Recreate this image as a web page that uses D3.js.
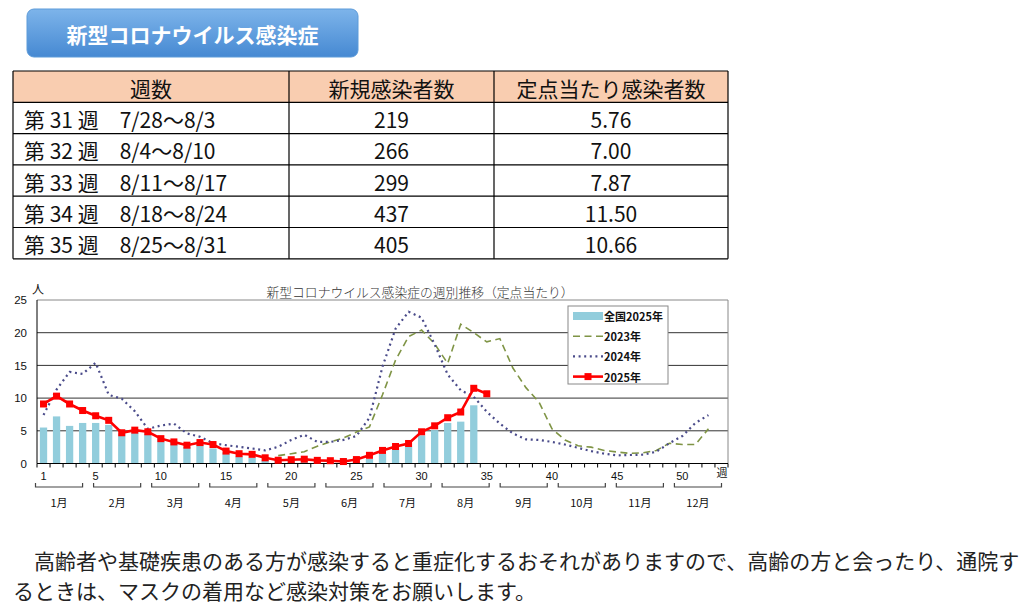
<!DOCTYPE html>
<html lang="ja">
<head>
<meta charset="utf-8">
<title>新型コロナウイルス感染症</title>
<script src="https://cdn.jsdelivr.net/npm/d3@7.9.0/dist/d3.min.js"></script>
<style>
  html, body { margin: 0; padding: 0; background: #fff; }
  svg { display: block; font-family: "Noto Sans CJK JP", "Noto Sans", sans-serif; }
</style>
</head>
<body>
<svg id="page" width="1032" height="616"></svg>
<script>
// ---- data ----
const tableHeaders = ["週数", "新規感染者数", "定点当たり感染者数"];
const tableWeeks = ["第 31 週　7/28～8/3", "第 32 週　8/4～8/10", "第 33 週　8/11～8/17", "第 34 週　8/18～8/24", "第 35 週　8/25～8/31"];
const tableCases = ["219", "266", "299", "437", "405"];
const tablePerSentinel = ["5.76", "7.00", "7.87", "11.50", "10.66"];

const weeks = d3.range(1, 54);            // week categories 1..53
const tickWeeks = [1, 5, 10, 15, 20, 25, 30, 35, 40, 45, 50];
const yTicks = [0, 5, 10, 15, 20, 25];
const months = ["1月", "2月", "3月", "4月", "5月", "6月", "7月", "8月", "9月", "10月", "11月", "12月"];

// 全国2025年 (bars), from week 1
const national2025 = [5.5, 7.2, 5.75, 6.2, 6.2, 5.9, 4.6, 4.8, 4.6, 3.8,
  3.3, 2.55, 3.0, 2.3, 1.7, 1.1, 0.9, 0.55, 0.45, 0.4,
  0.4, 0.35, 0.35, 0.8, 0.8, 0.7, 1.5, 2.1, 2.55, 4.3,
  5.1, 6.2, 6.4, 8.9];

// 2025年, from week 1
const rate2025 = [9.1, 10.3, 9.1, 8.1, 7.3, 6.6, 4.7, 5.1, 4.85, 3.8,
  3.3, 2.8, 3.2, 2.9, 1.9, 1.5, 1.4, 0.87, 0.5, 0.58,
  0.66, 0.48, 0.43, 0.3, 0.6, 1.25, 2.0, 2.6, 3.06, 4.85,
  5.76, 7.00, 7.87, 11.50, 10.66];

// 2024年, from week 1
const rate2024 = [7.4, 11.3, 14.0, 13.7, 15.4, 10.5, 9.9, 8.0, 5.3, 5.8,
  6.1, 4.6, 4.1, 3.1, 2.8, 2.55, 2.3, 2.0, 2.55, 3.6,
  4.4, 3.3, 3.3, 3.6, 4.2, 7.0, 14.8, 20.6, 23.2, 22.3,
  18.2, 13.6, 11.2, 10.2, 7.9, 6.1, 4.6, 3.7, 3.6, 3.3,
  2.9, 2.4, 1.9, 1.5, 1.25, 1.3, 1.35, 1.8, 3.1, 4.2,
  6.2, 7.4];

// 2023年, from week 19
const start2023 = 19;
const rate2023 = [1.2, 1.5, 1.8, 2.65, 3.3, 3.9, 4.8, 5.6, 10.5, 15.8,
  19.4, 20.4, 18.3, 15.3, 21.3, 20.0, 18.6, 19.1, 14.6, 11.6,
  9.4, 5.3, 3.6, 2.7, 2.5, 2.0, 1.75, 1.55, 1.65, 2.0,
  3.1, 2.9, 2.9, 5.3];

const legendLabels = ["全国2025年", "2023年", "2024年", "2025年"];

// ---- page ----
const svg = d3.select("#page");
const defs = svg.append("defs");

// title button
let grad = defs.append("linearGradient").attr("id", "btn").attr("x1", 0).attr("y1", 0).attr("x2", 0).attr("y2", 1);
grad.append("stop").attr("offset", "0%").attr("stop-color", "#7db4ea");
grad.append("stop").attr("offset", "100%").attr("stop-color", "#4689d2");

svg.append("rect")
  .attr("x", 27).attr("y", 9).attr("width", 331).attr("height", 48).attr("rx", 7)
  .attr("fill", "url(#btn)").attr("stroke", "#5d9bd9");
svg.append("text")
  .attr("x", 192.5).attr("y", 34)
  .attr("text-anchor", "middle").attr("dominant-baseline", "central")
  .attr("fill", "#fff").attr("font-size", 21).attr("font-weight", "bold")
  .text("新型コロナウイルス感染症");

// ---- table ----
const colEdges = [13, 289, 494, 728];
const rowTop = 71, rowH = 31.3;
const nRows = tableWeeks.length + 1;
const table = svg.append("g").attr("font-size", 21).attr("fill", "#111");

table.append("rect")
  .attr("x", colEdges[0]).attr("y", rowTop)
  .attr("width", colEdges[3] - colEdges[0]).attr("height", rowH)
  .attr("fill", "#f9cdb0");

table.selectAll("text.head")
  .data(tableHeaders)
  .enter().append("text")
  .attr("class", "head")
  .attr("x", (d, i) => (colEdges[i] + colEdges[i + 1]) / 2)
  .attr("y", rowTop + rowH / 2 + 1)
  .attr("text-anchor", "middle").attr("dominant-baseline", "central")
  .text(d => d);

let rows = tableWeeks.map((w, i) => [w, tableCases[i], tablePerSentinel[i]]);
let rowG = table.selectAll("g.row")
  .data(rows)
  .enter().append("g")
  .attr("class", "row")
  .attr("transform", (d, i) => `translate(0,${rowTop + rowH * (i + 1) + rowH / 2 + 1})`);

rowG.selectAll("text")
  .data(d => d)
  .enter().append("text")
  .attr("x", (d, i) => i === 0 ? colEdges[0] + 11 : (colEdges[i] + colEdges[i + 1]) / 2)
  .attr("text-anchor", (d, i) => i === 0 ? "start" : "middle")
  .attr("dominant-baseline", "central")
  .text(d => d);

table.selectAll("line.h")
  .data(d3.range(nRows + 1))
  .enter().append("line")
  .attr("x1", colEdges[0]).attr("x2", colEdges[3])
  .attr("y1", i => rowTop + i * rowH).attr("y2", i => rowTop + i * rowH)
  .attr("stroke", "#000").attr("stroke-width", 1.2);
table.selectAll("line.v")
  .data(colEdges)
  .enter().append("line")
  .attr("x1", d => d).attr("x2", d => d)
  .attr("y1", rowTop).attr("y2", rowTop + nRows * rowH)
  .attr("stroke", "#000").attr("stroke-width", 1.2);

// ---- chart ----
const xL = 37, xR = 728, yT = 300, yB = 463.5;
const x = d3.scaleBand().domain(weeks).range([xL, xR]);
const y = d3.scaleLinear().domain([0, 25]).range([yB, yT]);
const bw = x.bandwidth();
const cx = w => x(w) + bw / 2;

const chart = svg.append("g").attr("font-family", "'Liberation Sans', Arial, sans-serif");

chart.append("text")
  .attr("x", 420).attr("y", 291)
  .attr("text-anchor", "middle").attr("dominant-baseline", "central")
  .attr("font-family", "'Noto Sans CJK JP', sans-serif")
  .attr("font-size", 12.8).attr("font-weight", 300).attr("fill", "#333")
  .text("新型コロナウイルス感染症の週別推移（定点当たり）");

chart.append("text")
  .attr("x", 38).attr("y", 288)
  .attr("text-anchor", "middle").attr("dominant-baseline", "central")
  .attr("font-family", "'Noto Sans CJK JP', sans-serif")
  .attr("font-size", 12).attr("fill", "#111")
  .text("人");

// grid
chart.selectAll("line.grid")
  .data(yTicks.filter(v => v > 0))
  .enter().append("line")
  .attr("x1", xL).attr("x2", xR)
  .attr("y1", d => y(d)).attr("y2", d => y(d))
  .attr("stroke", d => d === 25 ? "#888" : "#333").attr("stroke-width", 1);
chart.append("line")
  .attr("x1", xR).attr("x2", xR).attr("y1", yT).attr("y2", yB)
  .attr("stroke", "#888");

// y axis labels
let yAxis = chart.append("g")
  .attr("transform", `translate(${xL},0)`)
  .call(d3.axisLeft(y).tickValues(yTicks).tickSize(0).tickPadding(10));
yAxis.select(".domain").remove();
yAxis.selectAll("text").attr("font-size", 11.5).attr("fill", "#111");

// bars
chart.selectAll("rect.bar")
  .data(national2025)
  .enter().append("rect")
  .attr("class", "bar")
  .attr("x", (d, i) => cx(weeks[i]) - bw * 0.28)
  .attr("width", bw * 0.56)
  .attr("y", d => y(d))
  .attr("height", d => yB - y(d))
  .attr("fill", "#92cddc");

// axis lines and boundary ticks
chart.append("line")
  .attr("x1", xL).attr("x2", xL).attr("y1", yT).attr("y2", yB)
  .attr("stroke", "#000");
chart.append("line")
  .attr("x1", xL).attr("x2", xR).attr("y1", yB).attr("y2", yB)
  .attr("stroke", "#000");
chart.selectAll("line.tick")
  .data(weeks.map(w => x(w)).concat([xR]))
  .enter().append("line")
  .attr("x1", d => d).attr("x2", d => d)
  .attr("y1", yB).attr("y2", yB + 4)
  .attr("stroke", "#000");

let xAxis = chart.append("g")
  .attr("transform", `translate(0,${yB})`)
  .call(d3.axisBottom(x).tickValues(tickWeeks).tickSize(0).tickPadding(9));
xAxis.select(".domain").remove();
xAxis.selectAll("text").attr("font-size", 11).attr("fill", "#111");

chart.append("text")
  .attr("x", 722).attr("y", 472)
  .attr("text-anchor", "middle").attr("dominant-baseline", "central")
  .attr("font-family", "'Noto Sans CJK JP', sans-serif")
  .attr("font-size", 11).attr("fill", "#111")
  .text("週");

// month brackets
const m = d3.scaleBand().domain(months).range([30, 727]);
const inset = 5.5, brY = 487;
let mg = chart.selectAll("g.month")
  .data(months)
  .enter().append("g")
  .attr("class", "month");
mg.append("path")
  .attr("d", d => {
    let a = m(d) + inset, b = m(d) + m.bandwidth() - inset;
    return `M${a},${brY - 4}L${a},${brY}L${b},${brY}L${b},${brY - 4}`;
  })
  .attr("fill", "none").attr("stroke", "#444").attr("stroke-width", 1.2);
mg.append("text")
  .attr("x", d => m(d) + m.bandwidth() / 2)
  .attr("y", 502)
  .attr("text-anchor", "middle").attr("dominant-baseline", "central")
  .attr("font-family", "'Noto Sans CJK JP', sans-serif")
  .attr("font-size", 11).attr("fill", "#111")
  .text(d => d);

// lines
const line = d3.line().x(d => cx(d.week)).y(d => y(d.value));
const s2023 = rate2023.map((v, i) => ({ week: start2023 + i, value: v }));
const s2024 = rate2024.map((v, i) => ({ week: weeks[i], value: v }));
const s2025 = rate2025.map((v, i) => ({ week: weeks[i], value: v }));

chart.append("path").datum(s2023)
  .attr("d", line).attr("fill", "none")
  .attr("stroke", "#7f9445").attr("stroke-width", 1.6)
  .attr("stroke-dasharray", "7,4.5");
chart.append("path").datum(s2024)
  .attr("d", line).attr("fill", "none")
  .attr("stroke", "#4a4b8a").attr("stroke-width", 2.2)
  .attr("stroke-dasharray", "2,3.6");
chart.append("path").datum(s2025)
  .attr("d", line).attr("fill", "none")
  .attr("stroke", "#ff0000").attr("stroke-width", 2.6);
chart.selectAll("rect.mk")
  .data(s2025)
  .enter().append("rect")
  .attr("class", "mk")
  .attr("x", d => cx(d.week) - 3.5).attr("y", d => y(d.value) - 3.5)
  .attr("width", 7).attr("height", 7)
  .attr("fill", "#ff0000");

// legend
const lg = chart.append("g").attr("transform", "translate(568,306)");
lg.append("rect")
  .attr("width", 100).attr("height", 78)
  .attr("fill", "#fff").attr("stroke", "#888");
let li = lg.selectAll("g.item")
  .data(legendLabels)
  .enter().append("g")
  .attr("class", "item")
  .attr("transform", (d, i) => `translate(0,${10 + i * 20.2})`);
li.append("text")
  .attr("x", 36).attr("y", 0)
  .attr("dominant-baseline", "central")
  .attr("font-family", "'Noto Sans CJK JP', sans-serif")
  .attr("font-size", 11).attr("font-weight", "bold").attr("fill", "#111")
  .text(d => d);
li.filter((d, i) => i === 0).append("rect")
  .attr("x", 5).attr("y", -4).attr("width", 30).attr("height", 8).attr("fill", "#92cddc");
li.filter((d, i) => i === 1).append("line")
  .attr("x1", 5).attr("x2", 35).attr("stroke", "#7f9445").attr("stroke-width", 1.6).attr("stroke-dasharray", "7,4.5");
li.filter((d, i) => i === 2).append("line")
  .attr("x1", 5).attr("x2", 35).attr("stroke", "#4a4b8a").attr("stroke-width", 2.2).attr("stroke-dasharray", "2,3.6");
li.filter((d, i) => i === 3).append("line")
  .attr("x1", 5).attr("x2", 35).attr("stroke", "#ff0000").attr("stroke-width", 2.6);
li.filter((d, i) => i === 3).append("rect")
  .attr("x", 16.5).attr("y", -3.5).attr("width", 7).attr("height", 7).attr("fill", "#ff0000");

// ---- note ----
const note = ["　高齢者や基礎疾患のある方が感染すると重症化するおそれがありますので、高齢の方と会ったり、通院す",
  "るときは、マスクの着用など感染対策をお願いします。"];
svg.selectAll("text.note")
  .data(note)
  .enter().append("text")
  .attr("class", "note")
  .attr("x", 13).attr("y", (d, i) => 560 + i * 30)
  .attr("dominant-baseline", "central")
  .attr("font-size", 21).attr("fill", "#222")
  .text(d => d);
</script>
</body>
</html>
